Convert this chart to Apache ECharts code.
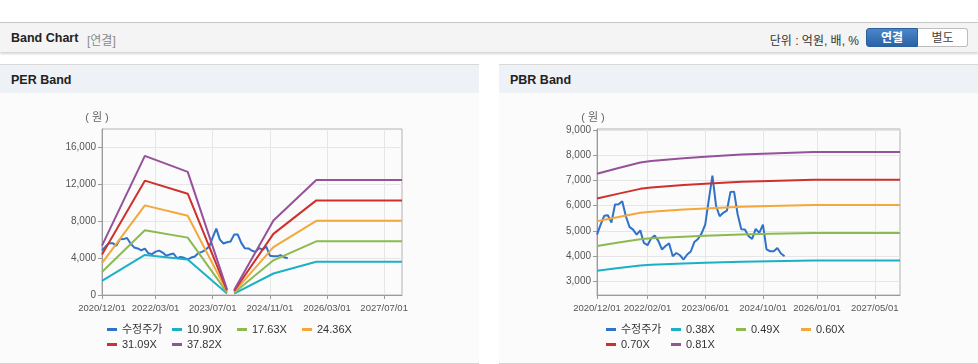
<!DOCTYPE html>
<html><head><meta charset="utf-8">
<script src="https://cdn.jsdelivr.net/npm/echarts@6/dist/echarts.min.js"></script>
<style>
body{margin:0;width:978px;height:364px;position:relative;overflow:hidden;background:#fff;font-family:'Liberation Sans','Noto Sans CJK KR',sans-serif;}
.bar{position:absolute;left:0;top:22px;width:978px;height:29px;background:#f4f4f4;border-top:1px solid #c6c6c6;box-shadow:0 2px 2px rgba(0,0,0,0.16);}
.bar .t{position:absolute;left:11px;top:8px;font-size:12.5px;font-weight:bold;color:#222;}
.bar .s{position:absolute;left:87px;top:8px;font-size:12px;color:#8a8a8a;}
.bar .u{position:absolute;right:119px;top:8px;font-size:12px;color:#333;}
.btn{position:absolute;top:5px;height:19px;line-height:19px;font-size:12px;text-align:center;box-sizing:border-box;}
.b1{left:866px;width:52px;background:linear-gradient(#4a86c8,#2a62a6);color:#fff;font-weight:bold;border:1px solid #2a5e9c;border-radius:3px 0 0 3px;}
.b2{left:918px;width:50px;background:#fff;color:#444;border:1px solid #bdbdbd;border-left:none;border-radius:0 3px 3px 0;}
.panel{position:absolute;top:64px;height:298px;background:#fbfbfb;border-top:1px solid #d8d8d8;border-bottom:1px solid #d4d4d4;}
.panel .h{height:28px;background:#eef1f6;position:relative;}
.panel .h span{position:absolute;left:11px;top:8px;font-size:12.5px;font-weight:bold;color:#222;}
#chart{position:absolute;left:0;top:0;width:978px;height:364px;z-index:2;}
</style></head>
<body>
<div class="bar"><span class="t">Band Chart</span><span class="s">[연결]</span><span class="u">단위 : 억원, 배, %</span>
<div class="btn b1">연결</div><div class="btn b2">별도</div></div>
<div class="panel" style="left:0;width:479px;"><div class="h"><span>PER Band</span></div></div>
<div class="panel" style="left:499px;width:479px;"><div class="h"><span>PBR Band</span></div></div>
<div id="chart"></div>
<script>
// ---- data ----
var startYear = 2020, startMonth = 12, monthCount = 85; // 2020/12 .. 2027/12
var categories = [];
for (var k = 0; k < monthCount; k++) {
  var m = startMonth - 1 + k, y = startYear + Math.floor(m / 12), mm = (m % 12) + 1;
  categories.push(y + '/' + (mm < 10 ? '0' + mm : mm) + '/01');
}
var perTickLabels = ['2020/12/01','2022/03/01','2023/07/01','2024/11/01','2026/03/01','2027/07/01'];
var pbrTickLabels = ['2020/12/01','2022/02/01','2023/06/01','2024/10/01','2026/01/01','2027/05/01'];
var perYTicks = [0, 4000, 8000, 12000, 16000];
var pbrYTicks = [3000, 4000, 5000, 6000, 7000, 8000, 9000];

// 수정주가 (monthly, 2020/12 .. 2025/04)
var price = [4850,5250,5600,5620,5330,6050,6060,6180,5580,5160,5050,4850,5020,4520,4430,4700,4810,4600,4260,4400,
  4500,3990,4120,4030,3860,4060,4180,4560,4680,4900,5250,6240,7200,6000,5580,5720,5800,6550,6560,5650,
  5060,5050,4800,4680,5080,4920,5250,4260,4190,4190,4320,4100,3990];

// PER band vertices
var perBandDates = ['2020/12/01','2021/12/01','2022/12/01','2023/11/01','2023/12/01','2024/01/01','2024/12/01','2025/12/01','2027/12/01'];
var per1090 = [1540, 4350, 3850, 170, null, 150, 2330, 3600, 3600];
var per1763 = [2490, 7030, 6220, 280, null, 250, 3760, 5820, 5820];
var per2436 = [3450, 9720, 8600, 390, null, 340, 5200, 8040, 8040];
var per3109 = [4400, 12400, 10980, 500, null, 440, 6630, 10260, 10260];
var per3782 = [5350, 15080, 13350, 610, null, 530, 8070, 12480, 12480];
var perNames = ['수정주가','10.90X','17.63X','24.36X','31.09X','37.82X'];

// PBR band vertices
var pbrBandDates = ['2020/12/01','2021/06/01','2021/12/01','2022/03/01','2022/12/01','2023/06/01','2024/04/01','2024/12/01','2025/12/01','2027/12/01'];
var pbr038 = [3410, 3520, 3620, 3650, 3700, 3730, 3770, 3790, 3820, 3820];
var pbr049 = [4400, 4540, 4670, 4710, 4770, 4810, 4860, 4890, 4920, 4920];
var pbr060 = [5385, 5555, 5720, 5760, 5845, 5890, 5955, 5985, 6030, 6030];
var pbr070 = [6285, 6480, 6670, 6725, 6820, 6870, 6950, 6985, 7035, 7035];
var pbr081 = [7270, 7500, 7720, 7780, 7890, 7950, 8040, 8080, 8140, 8140];
var pbrNames = ['수정주가','0.38X','0.49X','0.60X','0.70X','0.81X'];

var colors = ['#2f72c8','#1cb0c7','#8cba4f','#f4a73a','#cf302b','#955199'];

// ---- chart ----
function pairs(dates, vals) { return dates.map(function (d, i) { return [d, vals[i]]; }); }
var FONT = "'Liberation Sans','Noto Sans CJK KR',sans-serif";
function xAxis(gi, ticks) {
  var f = function (idx, val) { return ticks.indexOf(val) >= 0; };
  return {
    type: 'category', gridIndex: gi, data: categories, boundaryGap: false,
    axisLine: { lineStyle: { color: '#9a9a9a' } },
    axisTick: { show: true, interval: f, length: 4, lineStyle: { color: '#9a9a9a' } },
    axisLabel: { interval: f, color: '#555', fontSize: 9.5, fontFamily: FONT, margin: 9 },
    splitLine: { show: true, interval: f, lineStyle: { color: '#e6e6e6' } }
  };
}
function yAxis(gi, min, max, ticks, namePad) {
  return {
    type: 'value', gridIndex: gi, min: min, max: max,
    name: '( 원 )', nameLocation: 'end', nameGap: 6,
    nameTextStyle: { color: '#666', fontSize: 11, fontFamily: FONT, padding: namePad },
    axisLine: { show: true, lineStyle: { color: '#9a9a9a' } },
    axisTick: { show: true, length: 4, customValues: ticks, lineStyle: { color: '#9a9a9a' } },
    axisLabel: { color: '#555', fontSize: 10, fontFamily: FONT, margin: 6, customValues: ticks,
      formatter: function (v) { return v.toLocaleString('en-US'); } },
    splitLine: { show: true, lineStyle: { color: '#e6e6e6' } }
  };
}
function line(name, gi, data, color) {
  return { name: name, type: 'line', xAxisIndex: gi, yAxisIndex: gi, data: data, symbol: 'none',
    showSymbol: false, connectNulls: false, lineStyle: { width: 2, color: color }, itemStyle: { color: color } };
}
function legend(gi, left, names) {
  return {
    data: names, left: left, top: 324, width: 262, padding: 0, itemGap: 4, orient: 'horizontal',
    icon: 'rect', itemWidth: 10, itemHeight: 3,
    textStyle: { color: '#333', fontSize: 11, fontFamily: FONT, width: 46, lineHeight: 10.4 }
  };
}
var series = [
  line(perNames[0], 0, price, colors[0]),
  line(perNames[1], 0, pairs(perBandDates, per1090), colors[1]),
  line(perNames[2], 0, pairs(perBandDates, per1763), colors[2]),
  line(perNames[3], 0, pairs(perBandDates, per2436), colors[3]),
  line(perNames[4], 0, pairs(perBandDates, per3109), colors[4]),
  line(perNames[5], 0, pairs(perBandDates, per3782), colors[5]),
  line(pbrNames[0], 1, price, colors[0]),
  line(pbrNames[1], 1, pairs(pbrBandDates, pbr038), colors[1]),
  line(pbrNames[2], 1, pairs(pbrBandDates, pbr049), colors[2]),
  line(pbrNames[3], 1, pairs(pbrBandDates, pbr060), colors[3]),
  line(pbrNames[4], 1, pairs(pbrBandDates, pbr070), colors[4]),
  line(pbrNames[5], 1, pairs(pbrBandDates, pbr081), colors[5])
];
var chart = echarts.init(document.getElementById('chart'), null, { renderer: 'canvas' });
chart.setOption({
  animation: false,
  backgroundColor: 'transparent',
  grid: [
    { left: 102, top: 129, width: 300, height: 166, show: true, borderColor: '#b3b3b3', borderWidth: 1, backgroundColor: 'transparent' },
    { left: 597, top: 129, width: 303, height: 166, show: true, borderColor: '#b3b3b3', borderWidth: 1, backgroundColor: 'transparent' }
  ],
  xAxis: [xAxis(0, perTickLabels), xAxis(1, pbrTickLabels)],
  yAxis: [yAxis(0, 0, 18000, perYTicks, [0, 10, 0, 0]), yAxis(1, 2450, 9050, pbrYTicks, [0, 8, 0, 0])],
  legend: [legend(0, 107, perNames), legend(1, 606, pbrNames)],
  series: series
});
</script>
</body></html>
